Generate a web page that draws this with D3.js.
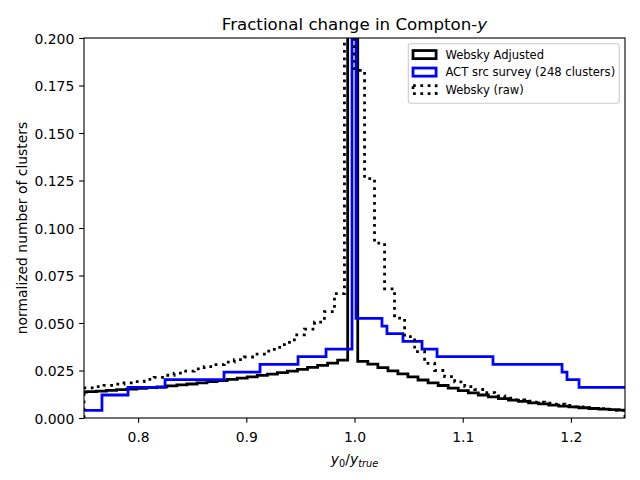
<!DOCTYPE html>
<html>
<head>
<meta charset="utf-8">
<script src="https://cdn.jsdelivr.net/npm/d3@7"></script>
<style>
  html, body { margin: 0; padding: 0; background: #fff; }
  svg { display: block; }
  text { font-family: "DejaVu Sans", sans-serif; fill: #000; }
</style>
</head>
<body>
<div id="chart"></div>
<script>
// ---- Data ----
const xTicks = [0.8, 0.9, 1.0, 1.1, 1.2];
const yTicks = [0.000, 0.025, 0.050, 0.075, 0.100, 0.125, 0.150, 0.175, 0.200];
const seriesNames = ["Websky Adjusted", "ACT src survey (248 clusters)", "Websky (raw)"];

// Websky Adjusted: bin edges and normalized counts
const adjustedEdges = [
  0.7430, 0.7523, 0.7615, 0.7708, 0.7801, 0.7894, 0.7987, 0.8080, 0.8173, 0.8266,
  0.8358, 0.8451, 0.8544, 0.8637, 0.8730, 0.8823, 0.8916, 0.9008, 0.9101, 0.9194,
  0.9287, 0.9380, 0.9473, 0.9566, 0.9659, 0.9751, 0.9844, 0.9937, 1.0030, 1.0123,
  1.0216, 1.0309, 1.0401, 1.0494, 1.0587, 1.0680, 1.0773, 1.0866, 1.0959, 1.1052,
  1.1144, 1.1237, 1.1330, 1.1423, 1.1516, 1.1609, 1.1702, 1.1795, 1.1888, 1.1980,
  1.2073, 1.2166, 1.2259, 1.2352, 1.2445, 1.2538, 1.2631
];
const adjustedValues = [
  0.0136, 0.0139, 0.0142, 0.0145, 0.0149, 0.0152, 0.0156, 0.0160, 0.0164, 0.0169,
  0.0174, 0.0179, 0.0185, 0.0191, 0.0197, 0.0203, 0.0210, 0.0217, 0.0224, 0.0231,
  0.0239, 0.0247, 0.0256, 0.0266, 0.0277, 0.0289, 0.0305, 0.4500, 0.0298, 0.0283,
  0.0265, 0.0248, 0.0232, 0.0216, 0.0200, 0.0185, 0.0171, 0.0157, 0.0144, 0.0132,
  0.0121, 0.0111, 0.0102, 0.0094, 0.0087, 0.0080, 0.0074, 0.0068, 0.0063, 0.0058,
  0.0054, 0.0050, 0.0047, 0.0044, 0.0041, 0.0039
];

// ACT src survey: variable-width bins
const actEdges = [
  0.7000, 0.7666, 0.7907, 0.8249, 0.8794, 0.9127, 0.9478, 0.9737, 0.9977, 1.0014,
  1.0254, 1.0300, 1.0448, 1.0624, 1.0763, 1.1280, 1.1918, 1.1964, 1.2075, 1.3000
];
const actValues = [
  0.0040, 0.0121, 0.0161, 0.0202, 0.0242, 0.0282, 0.0323, 0.0363, 0.5000, 0.0524,
  0.0484, 0.0444, 0.0403, 0.0363, 0.0323, 0.0282, 0.0242, 0.0202, 0.0161
];

// Websky (raw)
const rawEdges = [
  0.7500, 0.7593, 0.7685, 0.7778, 0.7870, 0.7963, 0.8056, 0.8148, 0.8241, 0.8333,
  0.8426, 0.8519, 0.8611, 0.8704, 0.8796, 0.8889, 0.8981, 0.9074, 0.9167, 0.9259,
  0.9352, 0.9444, 0.9537, 0.9630, 0.9722, 0.9815, 0.9907, 1.0000, 1.0093, 1.0185,
  1.0278, 1.0370, 1.0463, 1.0556, 1.0648, 1.0741, 1.0833, 1.0926, 1.1019, 1.1111,
  1.1204, 1.1296, 1.1389, 1.1481, 1.1574, 1.1667, 1.1759, 1.1852, 1.1944, 1.2037,
  1.2130, 1.2222, 1.2315, 1.2407, 1.2500
];
const rawValues = [
  0.0158, 0.0165, 0.0172, 0.0178, 0.0185, 0.0192, 0.0203, 0.0214, 0.0225, 0.0236,
  0.0247, 0.0258, 0.0270, 0.0281, 0.0294, 0.0307, 0.0321, 0.0336, 0.0352, 0.0372,
  0.0398, 0.0437, 0.0468, 0.0505, 0.0560, 0.0655, 0.3000, 0.1830, 0.1260, 0.0920,
  0.0680, 0.0526, 0.0428, 0.0349, 0.0288, 0.0250, 0.0218, 0.0190, 0.0165, 0.0150,
  0.0133, 0.0117, 0.0104, 0.0095, 0.0089, 0.0083, 0.0078, 0.0073, 0.0066, 0.0059,
  0.0054, 0.0049, 0.0045, 0.0040
];

// ---- Layout ----
const W = 640, H = 480;
const M = { left: 84, right: 625, top: 38, bottom: 418 };
const LW = 2.78; // 2pt

const svg = d3.select("#chart").append("svg")
  .attr("width", W).attr("height", H);

const x = d3.scaleLinear().domain([0.75, 1.25]).range([M.left, M.right]);
const y = d3.scaleLinear().domain([0, 0.2]).range([M.bottom, M.top]);

svg.append("defs").append("clipPath").attr("id", "clip")
  .append("rect")
  .attr("x", M.left).attr("y", M.top)
  .attr("width", M.right - M.left).attr("height", M.bottom - M.top);

function stepPoints(edges, values) {
  const pts = [[edges[0], 0]];
  values.forEach((v, i) => {
    pts.push([edges[i], v]);
    pts.push([edges[i + 1], v]);
  });
  pts.push([edges[edges.length - 1], 0]);
  return pts;
}
const line = d3.line().x(d => x(d[0])).y(d => y(d[1]));

const plot = svg.append("g").attr("clip-path", "url(#clip)");

plot.append("path")
  .attr("d", line(stepPoints(adjustedEdges, adjustedValues)))
  .attr("fill", "none").attr("stroke", "#000").attr("stroke-width", LW)
  .attr("stroke-linejoin", "miter");

plot.append("path")
  .attr("d", line(stepPoints(actEdges, actValues)))
  .attr("fill", "none").attr("stroke", "#0000ff").attr("stroke-width", LW)
  .attr("stroke-linejoin", "miter");

plot.append("path")
  .attr("d", line(stepPoints(rawEdges, rawValues)))
  .attr("fill", "none").attr("stroke", "#000").attr("stroke-width", LW)
  .attr("stroke-dasharray", "2.78,4.58")
  .attr("stroke-linejoin", "miter");

// ---- Axes ----
const fs = 13.9;
const xAxis = d3.axisBottom(x).tickValues(xTicks).tickFormat(d3.format(".1f"))
  .tickSizeInner(4.86).tickSizeOuter(0).tickPadding(4.86);
const gx = svg.append("g").attr("transform", `translate(0,${M.bottom})`).call(xAxis);
gx.select(".domain").remove();
gx.selectAll("line").attr("stroke", "#000").attr("stroke-width", 1.1);
gx.selectAll("text").attr("font-size", fs).attr("dy", "1.0em")
  .style("font-family", "DejaVu Sans");

const yAxis = d3.axisLeft(y).tickValues(yTicks).tickFormat(d3.format(".3f"))
  .tickSizeInner(4.86).tickSizeOuter(0).tickPadding(4.86);
const gy = svg.append("g").attr("transform", `translate(${M.left},0)`).call(yAxis);
gy.select(".domain").remove();
gy.selectAll("line").attr("stroke", "#000").attr("stroke-width", 1.1);
gy.selectAll("text").attr("font-size", fs).attr("dy", "0.36em")
  .style("font-family", "DejaVu Sans");

// frame
svg.append("rect")
  .attr("x", M.left).attr("y", M.top)
  .attr("width", M.right - M.left).attr("height", M.bottom - M.top)
  .attr("fill", "none").attr("stroke", "#000").attr("stroke-width", 1.1);

// ---- Title ----
const title = svg.append("text")
  .attr("x", (M.left + M.right) / 2).attr("y", 29.5)
  .attr("text-anchor", "middle").attr("font-size", 16.67);
title.append("tspan").text("Fractional change in Compton-");
title.append("tspan").attr("font-style", "italic").text("y");

// ---- X label ----
const xl = svg.append("text")
  .attr("x", (M.left + M.right) / 2).attr("y", 464)
  .attr("text-anchor", "middle").attr("font-size", fs);
xl.append("tspan").attr("font-style", "italic").text("y");
xl.append("tspan").attr("font-size", fs * 0.7).attr("dy", 2.5).text("0");
xl.append("tspan").attr("dy", -2.5).text("/");
xl.append("tspan").attr("font-style", "italic").text("y");
xl.append("tspan").attr("font-style", "italic").attr("font-size", fs * 0.7).attr("dy", 2.5).text("true");

// ---- Y label ----
svg.append("text")
  .attr("transform", `translate(27,${(M.top + M.bottom) / 2}) rotate(-90)`)
  .attr("text-anchor", "middle").attr("font-size", fs)
  .text("normalized number of clusters");

// ---- Legend ----
const lfs = 11.57;
const leg = svg.append("g");
leg.append("rect")
  .attr("x", 408.3).attr("y", 43.8).attr("width", 210.9).attr("height", 59.4)
  .attr("rx", 2.5).attr("ry", 2.5)
  .attr("fill", "#fff").attr("fill-opacity", 0.8)
  .attr("stroke", "#cccccc").attr("stroke-width", 1.1);
const legStyles = [
  { stroke: "#000", dash: null },
  { stroke: "#0000ff", dash: null },
  { stroke: "#000", dash: "2.78,4.58" }
];
const rowY = [54.6, 72.1, 89.6];
seriesNames.forEach((name, i) => {
  const cy = rowY[i];
  const r = leg.append("rect")
    .attr("x", 413).attr("y", cy - 4.05).attr("width", 23.1).attr("height", 8.1)
    .attr("fill", "none").attr("stroke", legStyles[i].stroke).attr("stroke-width", LW);
  if (legStyles[i].dash) r.attr("stroke-dasharray", legStyles[i].dash);
  leg.append("text")
    .attr("x", 445.4).attr("y", cy + 4.2)
    .attr("font-size", lfs).text(name);
});
</script>
</body>
</html>
